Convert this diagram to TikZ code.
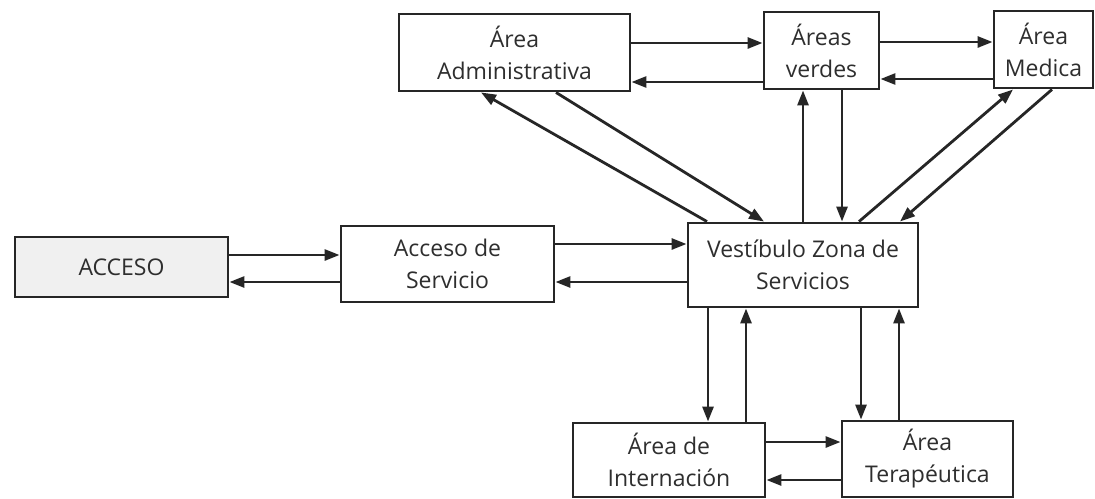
\documentclass[tikz,border=0pt]{standalone}
\usepackage{fontspec}
\setmainfont{Open Sans}
\usetikzlibrary{arrows.meta}
\begin{document}
\begin{tikzpicture}[x=1pt,y=-1pt,
  box/.style={draw=black!85,line width=2.9pt,fill=white,inner sep=0pt,align=center,
    font=\fontsize{23}{32}\selectfont,text=black!82},
  arr/.style={draw=black!85,line width=2.8pt,-{Triangle[length=15pt,width=11pt]}}]
\useasboundingbox (0,0) rectangle (1095,498);
\node[box,fill=black!6,minimum width=213pt,minimum height=60pt] (acc) at (121.5,267) {ACCESO};
\node[box,minimum width=213pt,minimum height=76pt] (asvc) at (447.5,264) {Acceso de\\Servicio};
\node[box,minimum width=230pt,minimum height=84pt] (vest) at (803,265) {Vestíbulo Zona de\\Servicios};
\node[box,minimum width=231pt,minimum height=77pt] (admin) at (514.5,52.5) {Área\\Administrativa};
\node[box,minimum width=115pt,minimum height=77pt] (verdes) at (821.5,50.5) {Áreas\\verdes};
\node[box,minimum width=99pt,minimum height=77pt] (medica) at (1043.5,49.5) {Área\\Medica};
\node[box,minimum width=192pt,minimum height=74pt] (intern) at (669,460) {Área de\\Internación};
\node[box,minimum width=171pt,minimum height=76pt] (terap) at (927.5,459) {Área\\Terapéutica};
% ACCESO <-> Acceso de Servicio
\draw[arr] (acc.east |- 0,255) -- (asvc.west |- 0,255);
\draw[arr] (asvc.west |- 0,282) -- (acc.east |- 0,282);
% Acceso de Servicio <-> Vestibulo
\draw[arr] (asvc.east |- 0,244) -- (vest.west |- 0,244);
\draw[arr] (vest.west |- 0,282) -- (asvc.east |- 0,282);
% top row
\draw[arr] (admin.east |- 0,43) -- (verdes.west |- 0,43);
\draw[arr] (verdes.west |- 0,82) -- (admin.east |- 0,82);
\draw[arr] (verdes.east |- 0,42) -- (medica.west |- 0,42);
\draw[arr] (medica.west |- 0,79) -- (verdes.east |- 0,79);
% diagonals admin
\draw[arr] (556,0 |- admin.south) -- (764,0 |- vest.north);
\draw[arr] (707,0 |- vest.north) -- (481,0 |- admin.south);
% verdes verticals
\draw[arr] (803,0 |- vest.north) -- (803,0 |- verdes.south);
\draw[arr] (842,0 |- verdes.south) -- (842,0 |- vest.north);
% diagonals medica
\draw[arr] (859,0 |- vest.north) -- (1013,0 |- medica.south);
\draw[arr] (1052,0 |- medica.south) -- (900,0 |- vest.north);
% bottom verticals
\draw[arr] (708,0 |- vest.south) -- (708,0 |- intern.north);
\draw[arr] (746,0 |- intern.north) -- (746,0 |- vest.south);
\draw[arr] (861,0 |- vest.south) -- (861,0 |- terap.north);
\draw[arr] (899,0 |- terap.north) -- (899,0 |- vest.south);
% bottom row
\draw[arr] (intern.east |- 0,442) -- (terap.west |- 0,442);
\draw[arr] (terap.west |- 0,480) -- (intern.east |- 0,480);
\end{tikzpicture}
\end{document}
